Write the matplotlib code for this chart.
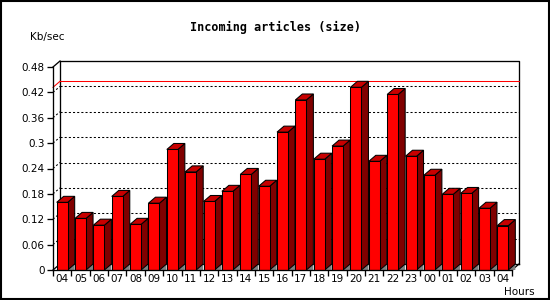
import matplotlib
matplotlib.use("Agg")
import matplotlib.pyplot as plt
from matplotlib.patches import Polygon, Rectangle

# data
hours = ["04", "05", "06", "07", "08", "09", "10", "11", "12", "13", "14", "15", "16",
         "17", "18", "19", "20", "21", "22", "23", "00", "01", "02", "03", "04"]
kb_sec = [0.160, 0.122, 0.106, 0.174, 0.108, 0.158, 0.285, 0.232, 0.162, 0.186, 0.226, 0.198,
          0.326, 0.402, 0.262, 0.293, 0.432, 0.257, 0.415, 0.269, 0.224, 0.179, 0.181, 0.146, 0.105]
y_ticks = [0, 0.06, 0.12, 0.18, 0.24, 0.3, 0.36, 0.42, 0.48]
y_labels = ["0", "0.06", "0.12", "0.18", "0.24", "0.3", "0.36", "0.42", "0.48"]

W, H = 550, 300
FRONT, TOP, SIDE, FLOOR = "#ff0000", "#c80000", "#800000", "#808080"
FONT = "DejaVu Sans"
LW = 0.75  # ~1px at dpi 100

fig = plt.figure(figsize=(W / 100, H / 100), dpi=100)
fig.patch.set_facecolor("white")
# front plane of the pseudo-3d box, pixel geometry from the reference
ax = fig.add_axes([53 / W, 30 / H, 459 / W, 203 / H])
n = len(kb_sec)
ymax = y_ticks[-1]
ax.set_xlim(0, n)
ax.set_ylim(0, ymax)
ax.set_facecolor("none")
for s in ("top", "right"):
    ax.spines[s].set_visible(False)
for s in ("left", "bottom"):
    ax.spines[s].set_linewidth(LW + 0.2)
    ax.spines[s].set_zorder(6)

# depth offset (7px right, 6px up) in data units
dx = 7 / 459 * n
dy = 6 / 203 * ymax

# back wall frame
kw = dict(color="black", lw=LW + 0.2, clip_on=False, zorder=1)
ax.plot([dx, dx, n + dx, n + dx], [dy, ymax + dy, ymax + dy, dy], **kw)
ax.plot([dx, n + dx], [dy, dy], **kw)
ax.plot([0, dx], [0, dy], **kw)
ax.plot([0, dx], [ymax, ymax + dy], **kw)
ax.plot([n, n + dx], [0, dy], **kw)

# dotted grid on the back wall
for v in y_ticks[1:-1]:
    ax.plot([dx, n + dx], [v + dy, v + dy], color="black", lw=LW,
            ls=(0, (2, 2)), clip_on=False, zorder=1)
    ax.plot([0, dx], [v, v + dy], color="black", lw=LW, ls=(0, (2, 2)),
            clip_on=False, zorder=1)

# max line
top = max(kb_sec)
ax.plot([dx, n + dx], [top + dy, top + dy], color="red", lw=LW, clip_on=False, zorder=2)
ax.plot([0, dx], [top, top + dy], color="red", lw=LW, clip_on=False, zorder=2)

# 3d bars
off, bw = 0.2, 0.6
for i, v in enumerate(kb_sec):
    x0 = i + off
    x1 = x0 + bw
    ax.add_patch(Polygon([(x1, 0), (x1 + dx, dy), (x1 + dx, 0)], closed=True,
                         facecolor=FLOOR, edgecolor="none", zorder=3, clip_on=False))
    ax.add_patch(Polygon([(x1, 0), (x1, v), (x1 + dx, v + dy), (x1 + dx, dy)], closed=True,
                         facecolor=SIDE, edgecolor="black", lw=LW, zorder=3, clip_on=False))
    ax.add_patch(Polygon([(x0, v), (x1, v), (x1 + dx, v + dy), (x0 + dx, v + dy)], closed=True,
                         facecolor=TOP, edgecolor="black", lw=LW, zorder=3, clip_on=False))
ax.bar([i + off for i in range(n)], kb_sec, width=bw, align="edge",
       color=FRONT, edgecolor="black", linewidth=LW, zorder=4)

# ticks
ax.set_yticks(y_ticks)
ax.set_yticklabels(y_labels, fontsize=7.5, family=FONT)
ax.set_xticks(range(n + 1))
ax.set_xticklabels([])
ax.set_xticks([i + 0.5 for i in range(n)], minor=True)
ax.set_xticklabels(hours, minor=True, fontsize=7.5, family=FONT)
ax.tick_params(axis="both", which="major", length=4, width=LW + 0.2, direction="out", pad=2)
ax.tick_params(axis="x", which="minor", length=0, pad=3)

fig.text(275 / W, 1 - 27 / H, "Incoming articles (size)", ha="center", va="center",
         fontsize=8.5, weight="bold", family="DejaVu Sans Mono")
fig.text(30 / W, 1 - 37 / H, "Kb/sec", ha="left", va="center", fontsize=7.5, family=FONT)
fig.text(504 / W, 1 - 292 / H, "Hours", ha="left", va="center", fontsize=7.5, family=FONT)

fig.add_artist(Rectangle((0.001, 0.002), 0.997, 0.995, transform=fig.transFigure,
                         fill=False, edgecolor="black", lw=1.5))

fig.savefig("out.png", dpi=100)
